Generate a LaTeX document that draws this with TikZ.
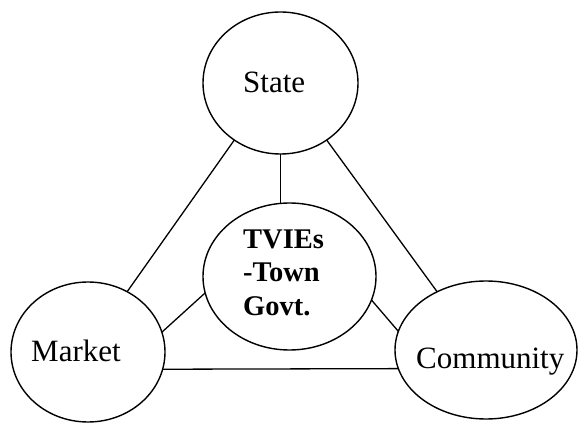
\documentclass[tikz,border=0pt]{standalone}
\usepackage{fontspec}
\setmainfont{Liberation Serif}
\usetikzlibrary{shapes.geometric}

\tikzset{
  oval/.style={draw, ellipse, line width=1.4pt, inner sep=0pt, outer sep=0pt},
  link/.style={line width=1.3pt},
  word/.style={inner sep=0pt, anchor=base west, font=\fontsize{31}{36}\selectfont},
  boldword/.style={inner sep=0pt, anchor=base west, font=\fontsize{28.5}{33}\selectfont\bfseries}
}

\begin{document}
\begin{tikzpicture}[x=1pt, y=1pt]
  \useasboundingbox (0,0) rectangle (578,423);

  % the four ovals
  \node[oval, minimum width=155pt, minimum height=142pt] (state)     at (280.5,340) {};
  \node[oval, minimum width=173pt, minimum height=147pt] (tvies)     at (289.5,146.5) {};
  \node[oval, minimum width=154pt, minimum height=140pt] (market)    at (88,71) {};
  \node[oval, minimum width=182pt, minimum height=138pt] (community) at (486,73) {};

  % labels
  \node[word] (stateText)     at (243,330) {State};
  \node[word] (marketText)    at (31,61)   {Market};
  \node[word] (communityText) at (416,54)  {Community};
  \node[boldword] (tviesA) at (243,174) {TVIEs};
  \node[boldword] (tviesB) at (243,141) {-Town};
  \node[boldword] (tviesC) at (243,107) {Govt.};

  % outer triangle
  \draw[link] (state.231.6) -- (market.57.8);
  \draw[link] (state.309.5) -- (community.130);
  \draw[link] (market.347.7) -- (community.192);

  % spokes to the centre oval
  \draw[link] (state.south) -- (state.south |- tvies.north);
  \draw[link] (tvies.191.4) -- (market.15.4);
  \draw[link] (tvies.344.8) -- (community.168);
\end{tikzpicture}
\end{document}
